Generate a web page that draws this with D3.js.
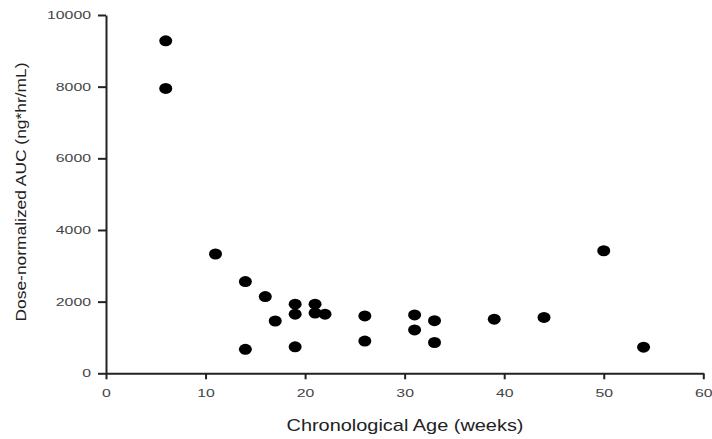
<!DOCTYPE html>
<html>
<head>
<meta charset="utf-8">
<script src="https://cdn.jsdelivr.net/npm/d3@7"></script>
<style>
    body { margin: 0; background: #fff; }
    svg { display: block; font-family: "Liberation Sans", Arial, sans-serif; }
</style>
</head>
<body>
<svg id="drawing_region" width="712" height="439"></svg>
<script>
// age in weeks and dose-normalized AUC
const ages = [6, 6, 11, 14, 14, 16, 17, 19, 19, 19, 21, 21, 22, 26, 26, 31, 31, 33, 33, 39, 44, 50, 54];
const aucs = [9280, 7950, 3330, 2560, 670, 2140, 1460, 1930, 1650, 740, 1930, 1680, 1650, 1600, 900, 1630, 1210, 1470, 860, 1510, 1560, 3420, 730];
const xTicks = [0, 10, 20, 30, 40, 50, 60];
const yTicks = [0, 2000, 4000, 6000, 8000, 10000];

const data = ages.map((a, i) => ({ x: a, y: aucs[i] }));

const svg = d3.select("#drawing_region");
const plotLeft = 106, plotRight = 703.3, plotTop = 15, plotBottom = 373.3;

const xScale = d3.scaleLinear().domain([0, 60]).range([plotLeft, plotRight]);
const yScale = d3.scaleLinear().domain([0, 10000]).range([plotBottom, plotTop]);

const xAxis = svg.append("g")
    .attr("transform", `translate(0,${plotBottom})`)
    .call(d3.axisBottom(xScale).tickValues(xTicks).tickFormat(d3.format("d"))
        .tickSize(6).tickPadding(12).tickSizeOuter(0));

const yAxis = svg.append("g")
    .attr("transform", `translate(${plotLeft},0)`)
    .call(d3.axisLeft(yScale).tickValues(yTicks).tickFormat(d3.format("d"))
        .tickSize(8).tickPadding(7).tickSizeOuter(0));

[xAxis, yAxis].forEach(g => {
    g.select(".domain").attr("stroke", "#222").attr("stroke-width", 2);
    g.selectAll(".tick line").attr("stroke", "#222").attr("stroke-width", 2);
    g.selectAll(".tick text")
        .attr("fill", "#444")
        .style("font-size", "11px")
        .attr("textLength", function() { return this.textContent.length * 8.8; })
        .attr("lengthAdjust", "spacingAndGlyphs");
});
xAxis.selectAll(".tick text").attr("dy", "0.5em");

svg.selectAll("ellipse")
    .data(data)
    .enter()
    .append("ellipse")
    .attr("cx", d => xScale(d.x))
    .attr("cy", d => yScale(d.y))
    .attr("rx", 6.5)
    .attr("ry", 5.5)
    .attr("fill", "#000");

svg.append("text")
    .attr("x", 405)
    .attr("y", 431)
    .attr("text-anchor", "middle")
    .attr("fill", "#222")
    .style("font-size", "17px")
    .attr("textLength", 237)
    .attr("lengthAdjust", "spacingAndGlyphs")
    .text("Chronological Age (weeks)");

svg.append("text")
    .attr("transform", "translate(26,192) rotate(-90)")
    .attr("text-anchor", "middle")
    .attr("fill", "#222")
    .style("font-size", "15px")
    .attr("textLength", 259)
    .attr("lengthAdjust", "spacingAndGlyphs")
    .text("Dose-normalized AUC (ng*hr/mL)");
</script>
</body>
</html>
